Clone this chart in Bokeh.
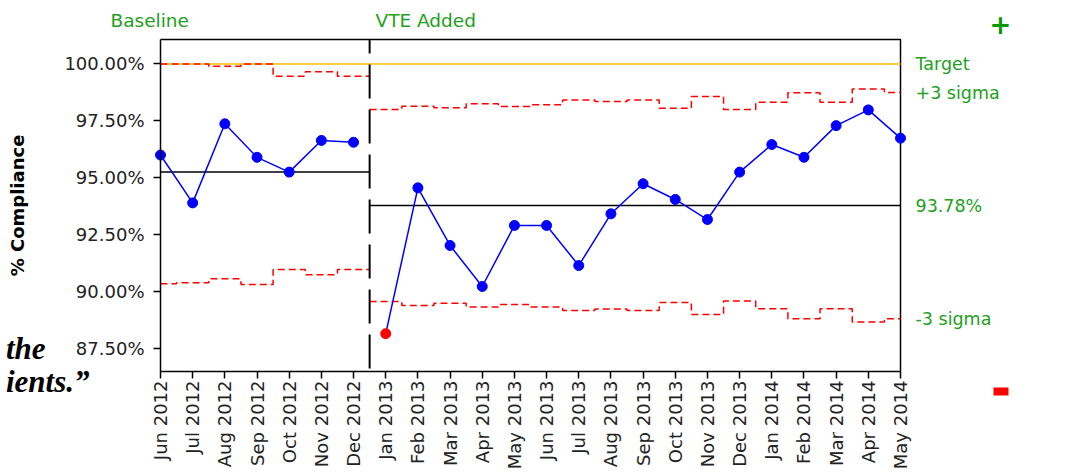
from math import pi
from bokeh.plotting import figure
from bokeh.models import (Range1d, FixedTicker, Label, BoxAnnotation,
                          PrintfTickFormatter, LinearAxis)
from bokeh.embed import file_html
from bokeh.resources import INLINE

# ---------------- data ----------------
months = ["Jun 2012", "Jul 2012", "Aug 2012", "Sep 2012", "Oct 2012", "Nov 2012", "Dec 2012",
          "Jan 2013", "Feb 2013", "Mar 2013", "Apr 2013", "May 2013", "Jun 2013", "Jul 2013",
          "Aug 2013", "Sep 2013", "Oct 2013", "Nov 2013", "Dec 2013", "Jan 2014", "Feb 2014",
          "Mar 2014", "Apr 2014", "May 2014"]
baseline_vals = [96.0, 93.9, 97.37, 95.9, 95.25, 96.64, 96.56]
vte_vals = [88.16, 94.56, 92.03, 90.23, 92.91, 92.91, 91.15, 93.42, 94.74, 94.05,
            93.17, 95.25, 96.46, 95.9, 97.29, 97.98, 96.74]
ucl = [100.0, 100.0, 99.9, 100.0, 99.46, 99.66, 99.46,
       98.0, 98.14, 98.07, 98.25, 98.13, 98.21, 98.42, 98.35, 98.42, 98.05, 98.57,
       98.0, 98.32, 98.73, 98.32, 98.9, 98.74]
lcl = [90.35, 90.39, 90.57, 90.32, 90.98, 90.75, 90.98,
       89.57, 89.4, 89.5, 89.33, 89.44, 89.33, 89.18, 89.24, 89.18, 89.53, 89.0,
       89.59, 89.25, 88.82, 89.25, 88.67, 88.82]
baseline_mean = 95.25
vte_mean = 93.78
target = 100.0
y_ticks = [87.5, 90.0, 92.5, 95.0, 97.5, 100.0]
phase_titles = ["Baseline", "VTE Added"]
right_texts = ["Target", "+3 sigma", f"{vte_mean:.2f}%", "-3 sigma"]
out_of_control = [0]  # index within VTE phase shown in red

# ---------------- layout constants ----------------
W, H = 1073, 472
FL, FR, FT, FB = 160, 900, 39, 371          # visible plot box in canvas px
Y0, Y1 = 86.5, 101.07
n_base = len(baseline_vals)
n_all = len(months)
XMAX = n_all - 1
divider = n_base - 0.5
x_base = list(range(n_base))
x_vte = list(range(n_base, n_all))

ux_per_px = XMAX / (FR - FL)
uy_per_px = (Y1 - Y0) / (FB - FT)


def X(px):
    return (px - FL) * ux_per_px


def Y(py):
    return Y1 - (py - FT) * uy_per_px


def step_path(idx, vals, lo, hi):
    px, py = [], []
    for k, (i, v) in enumerate(zip(idx, vals)):
        left = lo if k == 0 else i - 0.5
        right = hi if k == len(idx) - 1 else i + 0.5
        px += [left, right]
        py += [v, v]
    return px, py


FONT = "DejaVu Sans"
GREEN = "#22A022"

p = figure(width=W, height=H, output_backend="svg", toolbar_location=None,
           x_range=Range1d(X(0), X(W)), y_range=Range1d(Y(H), Y(0)),
           min_border=0, min_border_left=0, min_border_right=0,
           min_border_top=0, min_border_bottom=0)
p.xgrid.visible = False
p.ygrid.visible = False
p.outline_line_color = None
p.background_fill_color = "white"
p.border_fill_color = "white"

# axes (fixed inside the canvas-wide frame)
p.xaxis.fixed_location = Y0
p.xaxis.bounds = (0, XMAX)
p.xaxis.ticker = FixedTicker(ticks=list(range(n_all)))
p.xaxis.major_label_overrides = {i: m for i, m in enumerate(months)}
p.xaxis.major_label_orientation = pi / 2
p.xaxis.major_label_standoff = 2
p.yaxis.fixed_location = 0
p.yaxis.bounds = (Y0, Y1)
p.yaxis.ticker = FixedTicker(ticks=y_ticks)
p.yaxis.formatter = PrintfTickFormatter(format="%.2f%%")
p.yaxis.major_label_standoff = 9
for ax in (p.xaxis, p.yaxis):
    ax.major_label_text_font = FONT
    ax.major_label_text_color = "#222222"
    ax.major_label_text_font_size = "18px"
    ax.axis_line_color = "black"
    ax.axis_line_width = 1.5
    ax.major_tick_line_color = "black"
    ax.major_tick_line_width = 1.5
    ax.major_tick_in = 0
    ax.major_tick_out = 7
    ax.minor_tick_line_color = None
p.yaxis.axis_label = "% Compliance"
p.yaxis.axis_label_text_font = FONT
p.yaxis.axis_label_text_font_size = "18px"
p.yaxis.axis_label_text_font_style = "bold"
p.yaxis.axis_label_text_color = "black"
p.yaxis.axis_label_standoff = 33

# right-side limit labels as an axis
right_ticks = [target, ucl[-1], vte_mean, lcl[-1]]
rax = LinearAxis(ticker=FixedTicker(ticks=right_ticks), fixed_location=XMAX,
                 bounds=(Y0, Y1),
                 major_label_overrides={t: s for t, s in zip(right_ticks, right_texts)},
                 axis_line_color=None, major_tick_line_color=None, minor_tick_line_color=None,
                 major_tick_in=0, major_tick_out=0,
                 major_label_standoff=15, major_label_text_color=GREEN,
                 major_label_text_font=FONT, major_label_text_font_size="17.5px")
p.add_layout(rax, "right")

# plot box (top and right edges; left/bottom are the axes)
p.line([0, XMAX, XMAX], [Y1, Y1, Y0], line_color="black", line_width=1.5)

# target line
p.line([0, XMAX], [target, target], line_color="#FFC000", line_width=1.5)

# control limits (step lines)
for idx, lo, hi in ((x_base, 0, divider), (x_vte, divider, XMAX)):
    u = [ucl[i] for i in idx]
    l = [lcl[i] for i in idx]
    ux, uy = step_path(idx, u, lo, hi)
    lx, ly = step_path(idx, l, lo, hi)
    p.line(ux, uy, line_color="#FF0000", line_width=1.5, line_dash="7 4")
    p.line(lx, ly, line_color="#FF0000", line_width=1.5, line_dash="7 4")

# mean lines
p.line([0, divider], [baseline_mean, baseline_mean], line_color="black", line_width=1.5)
p.line([divider, XMAX], [vte_mean, vte_mean], line_color="black", line_width=1.5)

# phase divider
p.segment(x0=[divider], y0=[Y1], x1=[divider], y1=[Y0], line_color="black",
          line_width=2, line_dash="34 11", line_dash_offset=20)

# data series
p.line(x_base, baseline_vals, line_color="#0000FF", line_width=1.5)
p.scatter(x_base, baseline_vals, size=10, color="#0000FF")
p.line(x_vte, vte_vals, line_color="#0000FF", line_width=1.5)
vte_colors = ["#FF0000" if k in out_of_control else "#0000FF" for k in range(len(vte_vals))]
p.scatter(x_vte, vte_vals, size=10, color=vte_colors)

# phase titles
p.add_layout(Label(x=X(110), y=Y(20), text=phase_titles[0], text_baseline="middle",
                   text_font=FONT, text_font_size="18.5px", text_color=GREEN))
p.add_layout(Label(x=X(375), y=Y(20), text=phase_titles[1], text_baseline="middle",
                   text_font=FONT, text_font_size="18.5px", text_color=GREEN))

# plus / minus indicators
p.add_layout(Label(x=X(1000), y=Y(23), text="+", text_align="center",
                   text_baseline="middle", text_font=FONT, text_font_size="26px",
                   text_font_style="bold", text_color="#009900"))
p.add_layout(BoxAnnotation(left=X(993), right=X(1008), top=Y(387), bottom=Y(395),
                           fill_color="#FF0000", fill_alpha=1.0, line_color=None))

# fragments of slide text at left
p.add_layout(Label(x=X(45), y=Y(348), text="the", text_align="right",
                   text_baseline="alphabetic", text_font="Liberation Serif", text_font_size="31px",
                   text_font_style="bold italic", text_color="black"))
p.add_layout(Label(x=X(89), y=Y(381), text="ients.\u201d", text_align="right",
                   text_baseline="alphabetic", text_font="Liberation Serif",
                   text_font_size="31px", text_font_style="bold italic", text_color="black"))

open("out.html", "w").write(file_html(p, INLINE))
